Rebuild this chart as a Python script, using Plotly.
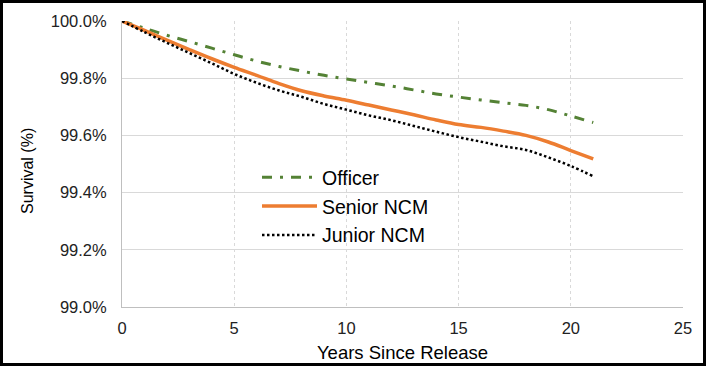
import plotly.graph_objects as go

years = list(range(0, 22))
officer = [100.0, 99.975, 99.950, 99.928, 99.905, 99.882, 99.860, 99.841, 99.825, 99.810,
           99.797, 99.785, 99.773, 99.759, 99.745, 99.734, 99.724, 99.714, 99.705, 99.690,
           99.668, 99.645]
senior_ncm = [100.0, 99.967, 99.933, 99.900, 99.868, 99.838, 99.810, 99.781, 99.756, 99.738,
              99.723, 99.706, 99.689, 99.672, 99.654, 99.638, 99.628, 99.615, 99.600, 99.577,
              99.547, 99.518]
junior_ncm = [100.0, 99.961, 99.924, 99.888, 99.852, 99.815, 99.784, 99.757, 99.735, 99.710,
              99.690, 99.670, 99.653, 99.633, 99.613, 99.594, 99.578, 99.562, 99.549, 99.523,
              99.493, 99.457]

names = ["Officer", "Senior NCM", "Junior NCM"]

W, H = 706, 366
L, R, T, B = 122, 23, 21, 59
pw, ph = W - L - R, H - T - B

fig = go.Figure()
fig.add_trace(go.Scatter(x=years, y=officer, mode="lines", name=names[0], legendgroup="a",
                         line=dict(color="#548235", width=3, dash="10px,8px,3px,8px", shape="spline")))
fig.add_trace(go.Scatter(x=years, y=senior_ncm, mode="lines", name=names[1], legendgroup="b",
                         line=dict(color="#ED7D31", width=3.5, shape="spline")))
fig.add_trace(go.Scatter(x=years, y=junior_ncm, mode="lines", name=names[2], legendgroup="c",
                         line=dict(color="#000000", width=2.5, dash="2.5px,2.5px", shape="spline")))

font_family = "Liberation Sans, Arial, sans-serif"

fig.update_layout(
    width=W, height=H,
    margin=dict(l=L, r=R, t=T, b=B, autoexpand=False),
    paper_bgcolor="white", plot_bgcolor="white",
    font=dict(family=font_family, size=16, color="#222222"),
    showlegend=True,
    legend=dict(x=(257 - L) / pw, y=(307 - 158) / ph, xanchor="left", yanchor="top",
                bgcolor="rgba(0,0,0,0)", font=dict(size=19.5, color="#000000"),
                tracegroupgap=0.5, itemwidth=55),
    xaxis=dict(range=[0, 25], dtick=5, tick0=0, showgrid=True, gridcolor="#d9d9d9",
               griddash="dot", gridwidth=1, showline=True, linecolor="#bfbfbf", linewidth=1,
               zeroline=False, ticks="", tickfont=dict(size=16.5), ticklabelstandoff=6,
               title=dict(text="Years Since Release", font=dict(size=18.5, color="#000000"), standoff=10)),
    yaxis=dict(range=[99.0, 100.0], dtick=0.2, tick0=99.0, tickformat=".1f", ticksuffix="%",
               showgrid=True, gridcolor="#d9d9d9", gridwidth=1, showline=True,
               linecolor="#bfbfbf", linewidth=1, zeroline=False, ticks="",
               ticklabelstandoff=11, tickfont=dict(size=16.5)),
    annotations=[dict(text="Survival (%)", textangle=-90, showarrow=False,
                      xref="paper", yref="paper", x=(27 - L) / pw, y=(307 - 171) / ph,
                      xanchor="center", yanchor="middle",
                      font=dict(size=16, color="#000000"))],
    shapes=[dict(type="rect", xref="paper", yref="paper",
                 x0=(1.5 - L) / pw, x1=(W - 1.5 - L) / pw,
                 y0=(H - B - (H - 1.5)) / ph, y1=(H - B - 1.5) / ph,
                 line=dict(color="black", width=3), fillcolor="rgba(0,0,0,0)", layer="above")],
)

fig.write_html("out.html", config={"displayModeBar": False},
               post_script="document.body.style.margin='0';document.body.style.overflow='hidden';")
